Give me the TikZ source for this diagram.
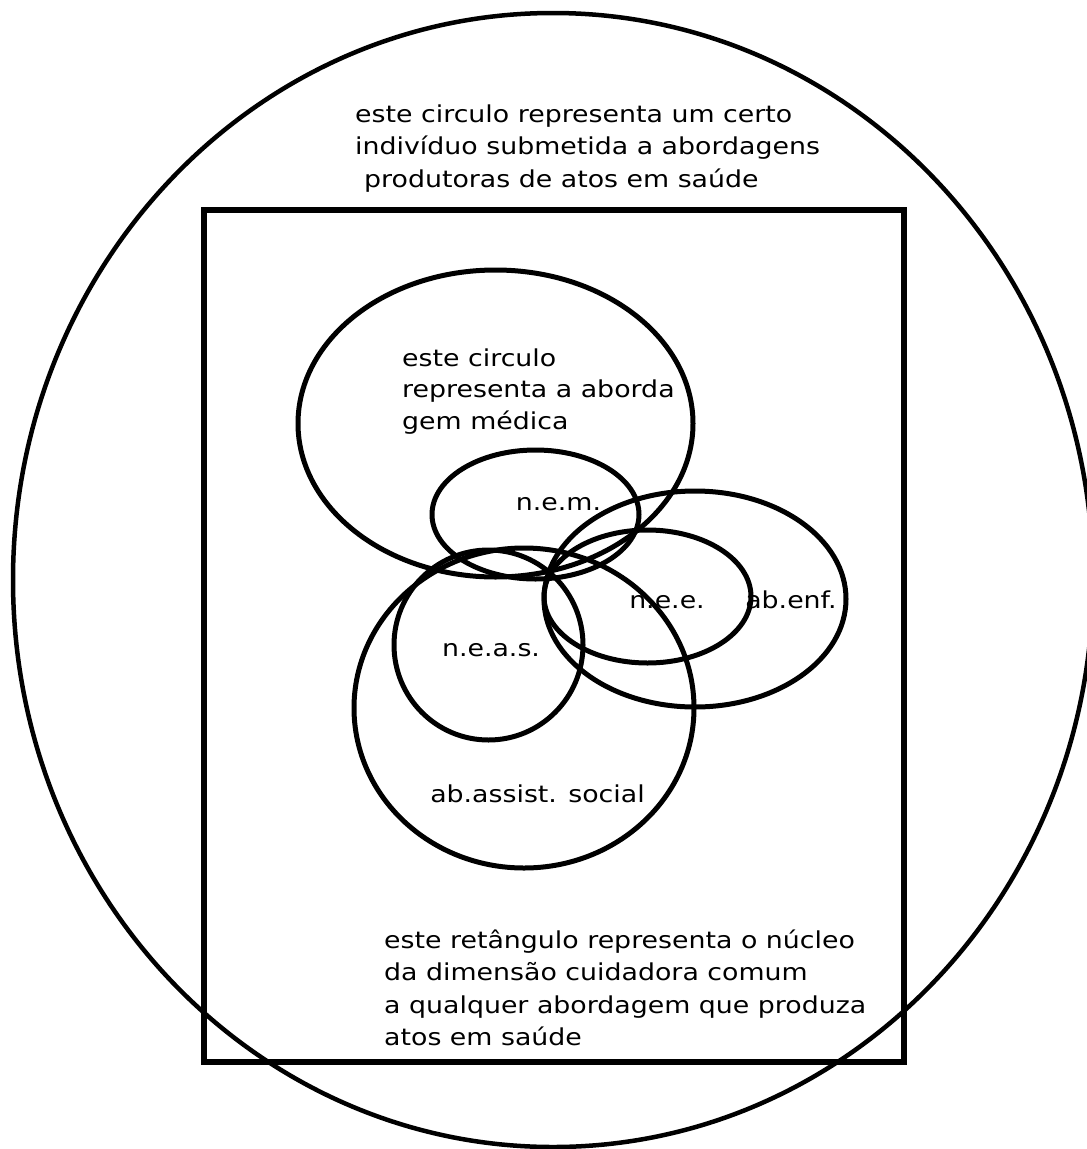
\documentclass[tikz,border=0pt]{standalone}
\usepackage{fontspec}
\setmainfont{DejaVu Sans}[FakeStretch=1.15]
\begin{document}
\begin{tikzpicture}[x=1pt,y=-1pt,
  thin outline/.style={draw=black, line width=4.5pt},
  ring/.style={draw=black, line width=5pt},
  frame/.style={draw=black, line width=6pt},
  txt/.style={inner sep=0pt, anchor=base west, font=\fontsize{23.3}{32}\selectfont},
  lbl/.style={inner sep=0pt, anchor=base, font=\fontsize{23.3}{32}\selectfont}]
\useasboundingbox[fill=white] (0,0) rectangle (1087,1149);
\clip (0,0) rectangle (1087,1149);

% the individual
\draw[thin outline] (553,580) ellipse [x radius=540, y radius=567];
% the caring core
\draw[frame] (203.5,210) rectangle (903.5,1062);

% approaches and their specific nuclei
\draw[ring] (495.5,423.5) ellipse [x radius=197.5, y radius=153.5]; % medical
\draw[ring] (535.5,514.5) ellipse [x radius=103.5, y radius=64.5];  % n.e.m.
\draw[ring] (695,599) ellipse [x radius=151, y radius=108];         % nursing
\draw[ring] (647.5,596.5) ellipse [x radius=103.5, y radius=66.5];  % n.e.e.
\draw[ring] (524,708) ellipse [x radius=170, y radius=160];         % social work
\draw[ring] (488.5,645) ellipse [x radius=94.5, y radius=95];       % n.e.a.s.

% captions
\node[txt] (top1) at (355,122) {este circulo representa um certo};
\node[txt] (top2) at (355,154.5) {indivíduo submetida a abordagens};
\node[txt] (top3) at (364,187) {produtoras de atos em saúde};

\node[txt] (med1) at (402,366) {este circulo};
\node[txt] (med2) at (402,397.5) {representa a aborda};
\node[txt] (med3) at (402,429) {gem médica};

\node[txt] (core1) at (384,948) {este retângulo representa o núcleo};
\node[txt] (core2) at (384,980.5) {da dimensão cuidadora comum};
\node[txt] (core3) at (384,1013) {a qualquer abordagem que produza};
\node[txt] (core4) at (384,1045.5) {atos em saúde};

\node[lbl] (nem) at (558.5,510) {n.e.m.};
\node[lbl] (nee) at (667,608.5) {n.e.e.};
\node[lbl] (abenf) at (791,608.5) {ab.enf.};
\node[lbl] (neas) at (491,656.5) {n.e.a.s.};
\node[lbl] (abas) at (537.5,802) {ab.assist. social};
\end{tikzpicture}
\end{document}
